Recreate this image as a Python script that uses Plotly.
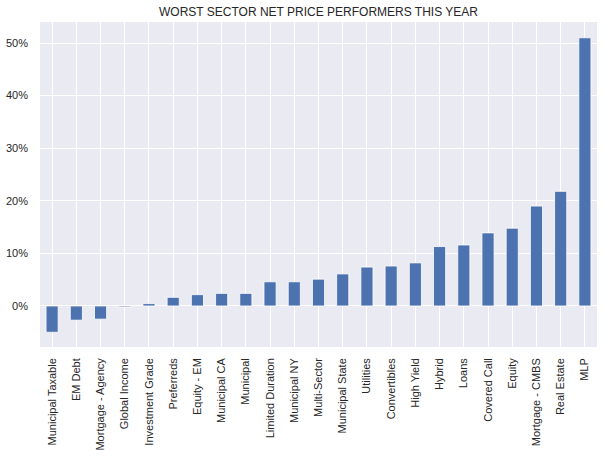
import plotly.graph_objects as go

categories = ["Municipal Taxable", "EM Debt", "Mortgage - Agency", "Global Income",
              "Investment Grade", "Preferreds", "Equity - EM", "Municipal CA", "Municipal",
              "Limited Duration", "Municipal NY", "Multi-Sector", "Municipal State",
              "Utilities", "Convertibles", "High Yield", "Hybrid", "Loans", "Covered Call",
              "Equity", "Mortgage - CMBS", "Real Estate", "MLP"]
values = [-5.0, -2.7, -2.5, -0.2, 0.45, 1.65, 2.15, 2.4, 2.4, 4.6, 4.6, 5.1, 6.1,
          7.4, 7.6, 8.2, 11.3, 11.6, 13.9, 14.8, 19.0, 21.8, 51.0]
title = "WORST SECTOR NET PRICE PERFORMERS THIS YEAR"

fig = go.Figure(go.Bar(
    x=categories, y=values, width=0.5,
    marker=dict(color="#4C72B0", line=dict(color="white", width=0.8)),
))
fig.update_layout(
    width=610, height=457,
    margin=dict(l=40, r=13, t=22, b=110, autoexpand=False),
    paper_bgcolor="white", plot_bgcolor="#EAEAF2",
    font=dict(family="Liberation Sans, Arial", size=11, color="#262626"),
    title=dict(text=title, x=0.5, xref="paper", y=1 - 11.5 / 457, yref="container",
               font=dict(size=12, color="#262626"), xanchor="center", yanchor="middle"),
    showlegend=False,
)
fig.update_xaxes(showgrid=True, gridcolor="white", gridwidth=1, tickangle=-90,
                 ticks="", showline=False, range=[-0.5, 22.5], automargin=False,
                 ticklabelstandoff=8)
fig.update_yaxes(showgrid=True, gridcolor="white", gridwidth=1, zeroline=True,
                 zerolinecolor="white", zerolinewidth=1, ticksuffix="%", dtick=10,
                 range=[-7.8, 54.0], ticks="", showline=False, automargin=False,
                 ticklabelstandoff=11)
fig.write_html("out.html", config={"displayModeBar": False},
               post_script="document.body.style.margin='0';")
